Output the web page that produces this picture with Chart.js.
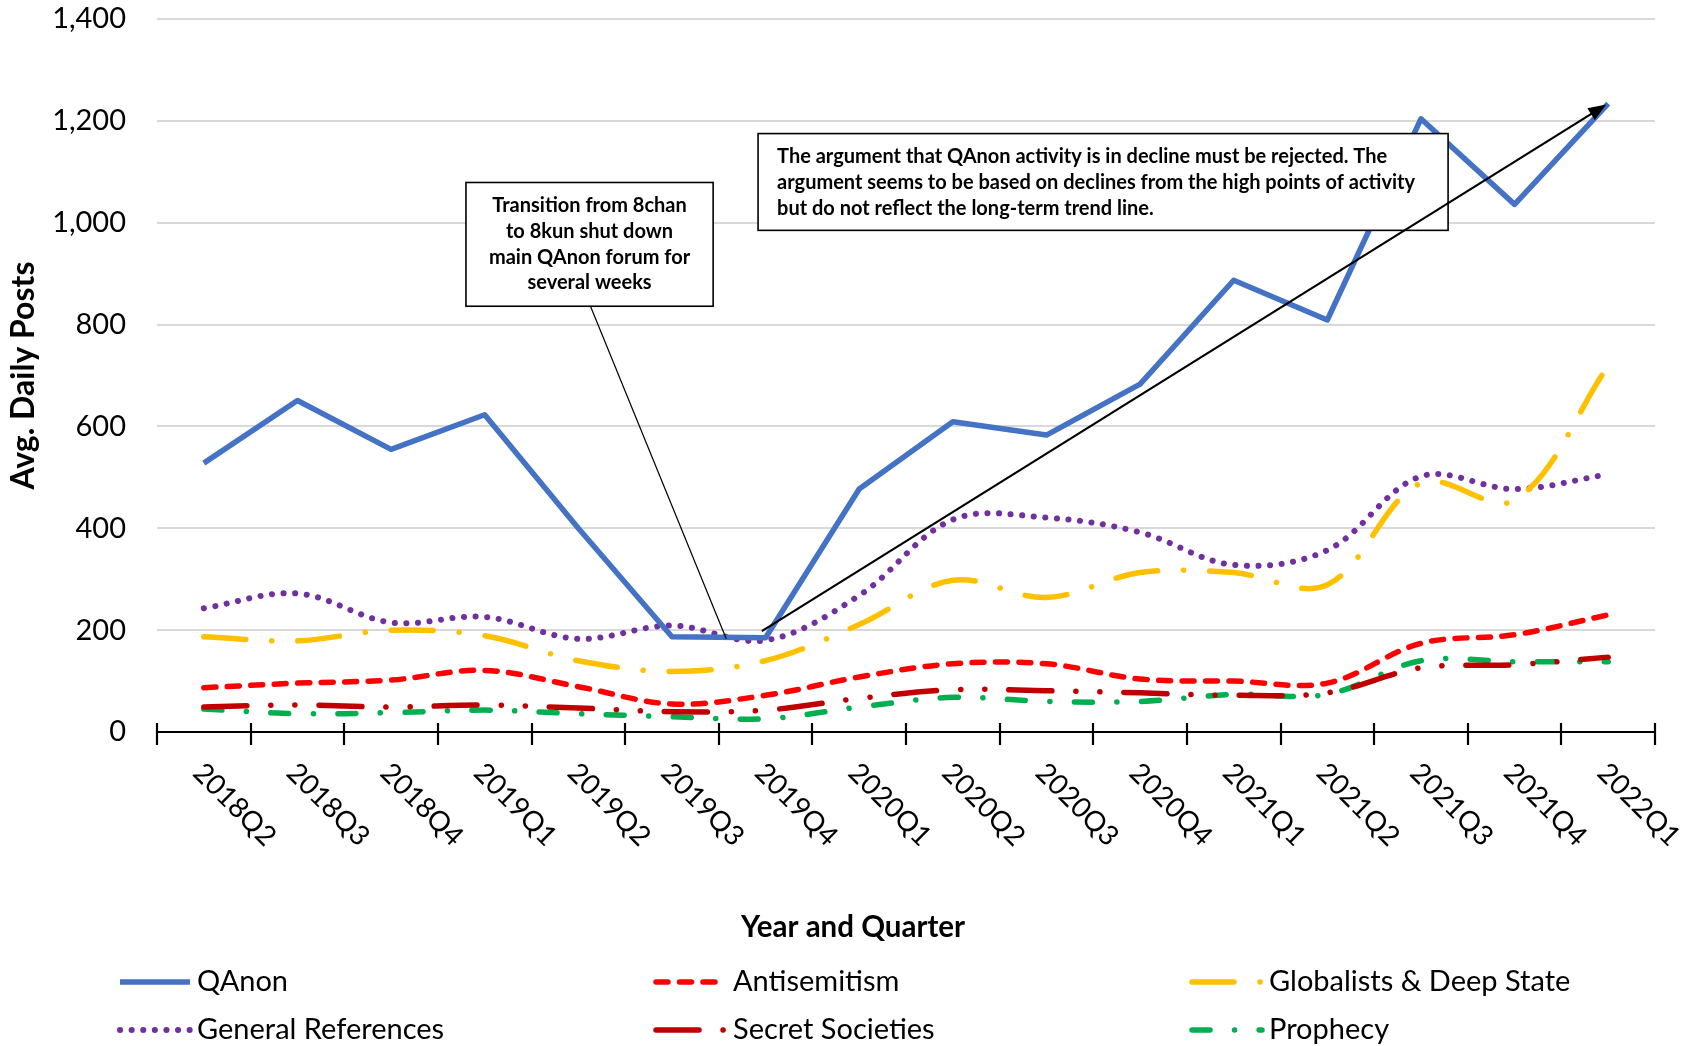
<!DOCTYPE html>
<html>
<head>
<meta charset="utf-8">
<script src="https://cdn.jsdelivr.net/npm/chart.js@4.4.0/dist/chart.umd.min.js"></script>
<style>
  html, body { margin: 0; padding: 0; background: #fff; }
  #wrap { width: 1698px; height: 1046px; position: relative; }
</style>
</head>
<body>
<div id="wrap"><canvas id="c"></canvas></div>
<script>
/* ── data ── */
const QUARTERS = ['2018Q2','2018Q3','2018Q4','2019Q1','2019Q2','2019Q3','2019Q4','2020Q1',
                  '2020Q2','2020Q3','2020Q4','2021Q1','2021Q2','2021Q3','2021Q4','2022Q1'];

const QANON        = [528, 651, 555, 623, 400, 187, 185, 477, 609, 583, 683, 887, 809, 1204, 1036, 1234];
const ANTISEMITISM = [87, 96, 102, 121, 89, 55, 72, 108, 134, 134, 104, 100, 96, 174, 191, 230];
const GLOBALISTS   = [187, 179, 200, 189, 140, 119, 140, 211, 298, 264, 313, 313, 289, 489, 455, 719];
const GENERAL      = [243, 272, 215, 226, 183, 209, 180, 268, 417, 421, 392, 328, 357, 502, 477, 506];
const SECRET       = [49, 53, 49, 53, 47, 40, 43, 66, 83, 81, 77, 72, 77, 126, 132, 147];
const PROPHECY     = [45, 36, 38, 43, 36, 30, 26, 49, 68, 60, 60, 74, 74, 140, 138, 138];

const Y_TICKS = [0, 200, 400, 600, 800, 1000, 1200, 1400];

const NOTE_1 = ['Transition from 8chan', 'to 8kun shut down', 'main QAnon forum for', 'several weeks'];
const NOTE_2 = ['The argument that QAnon activity is in decline must be rejected. The',
                'argument seems to be based on declines from the high points of activity',
                'but do not reflect the long-term trend line.'];

const FONT = "Lato, 'Open Sans', sans-serif";

/* ── annotations, placed in data space (category index, value) ── */
const BOX_1 = { x0: 2.80, x1: 5.44, y0: 1079, y1: 836 };
const BOX_2 = { x0: 5.92, x1: 13.29, y0: 1175, y1: 985 };
const CALLOUT = { x0: 4.13, y0: 836, x1: 5.58, y1: 183 };
const TREND   = { x0: 5.96, y0: 198, x1: 14.98, y1: 1232 };

function ds(label, data, color, dash, tension, width) {
  return {
    label, data,
    borderColor: color, backgroundColor: color,
    borderWidth: width || 5.5, borderDash: dash,
    borderCapStyle: dash.length ? 'round' : 'butt',
    borderJoinStyle: 'round',
    pointRadius: 0, tension, fill: false,
  };
}

const datasets = [
  ds('QAnon', QANON, '#4472C4', [], 0),
  ds('Antisemitism', ANTISEMITISM, '#FF0000', [12, 11.5], 0.35),
  ds('Globalists & Deep State', GLOBALISTS, '#FFC000', [42, 26, 0.1, 26], 0.35),
  ds('General References', GENERAL, '#7030A0', [0.1, 11.5], 0.35, 6),
  ds('Secret Societies', SECRET, '#C00000', [43, 24, 0.1, 24, 0.1, 24], 0.35),
  ds('Prophecy', PROPHECY, '#00B050', [18, 24.5, 0.1, 24.5], 0.35),
];

/* ── custom drawing: annotations, x labels, titles, legend ── */
const overlay = {
  id: 'overlay',
  afterDatasetsDraw(chart) {
    const { ctx, scales: { x, y } } = chart;
    const px = v => x.getPixelForValue(v);
    const py = v => y.getPixelForValue(v);
    ctx.save();

    // callout line
    ctx.strokeStyle = '#000'; ctx.lineWidth = 1.2;
    ctx.beginPath();
    ctx.moveTo(px(CALLOUT.x0), py(CALLOUT.y0));
    ctx.lineTo(px(CALLOUT.x1), py(CALLOUT.y1));
    ctx.stroke();

    // boxes
    const box = (b, lines, align) => {
      const l = px(b.x0), r = px(b.x1), t = py(b.y0), bt = py(b.y1);
      ctx.fillStyle = '#fff';
      ctx.fillRect(l, t, r - l, bt - t);
      ctx.strokeStyle = '#000'; ctx.lineWidth = 1.6;
      ctx.strokeRect(l, t, r - l, bt - t);
      ctx.fillStyle = '#000';
      ctx.font = `bold 20px ${FONT}`;
      ctx.textBaseline = 'middle';
      ctx.textAlign = align;
      const tx = align === 'center' ? (l + r) / 2 : l + 19;
      lines.forEach((s, i) => ctx.fillText(s, tx, t + 23 + i * 25.8));
    };
    box(BOX_1, NOTE_1, 'center');
    box(BOX_2, NOTE_2, 'left');

    // trend arrow
    const ax0 = px(TREND.x0), ay0 = py(TREND.y0), ax1 = px(TREND.x1), ay1 = py(TREND.y1);
    const ang = Math.atan2(ay1 - ay0, ax1 - ax0);
    ctx.strokeStyle = '#000'; ctx.lineWidth = 2.2;
    ctx.beginPath(); ctx.moveTo(ax0, ay0);
    ctx.lineTo(ax1 - 12 * Math.cos(ang), ay1 - 12 * Math.sin(ang)); ctx.stroke();
    ctx.fillStyle = '#000';
    ctx.beginPath();
    ctx.moveTo(ax1, ay1);
    ctx.lineTo(ax1 - 18 * Math.cos(ang) + 7 * Math.sin(ang), ay1 - 18 * Math.sin(ang) - 7 * Math.cos(ang));
    ctx.lineTo(ax1 - 18 * Math.cos(ang) - 7 * Math.sin(ang), ay1 - 18 * Math.sin(ang) + 7 * Math.cos(ang));
    ctx.closePath(); ctx.fill();
    ctx.restore();
  },
  afterDraw(chart) {
    const { ctx, chartArea: ca, scales: { x } } = chart;
    ctx.save();

    // x axis line + tick marks crossing it
    ctx.strokeStyle = '#000'; ctx.lineWidth = 2.2;
    ctx.beginPath(); ctx.moveTo(ca.left, ca.bottom); ctx.lineTo(ca.right, ca.bottom); ctx.stroke();
    for (let i = 0; i <= QUARTERS.length; i++) {
      const tx = Math.round(x.getPixelForValue(i - 0.5));
      ctx.beginPath(); ctx.moveTo(tx, ca.bottom - 9); ctx.lineTo(tx, ca.bottom + 13); ctx.stroke();
    }

    // rotated category labels (reading down to the right)
    ctx.fillStyle = '#000';
    ctx.font = `28px ${FONT}`;
    ctx.textAlign = 'left'; ctx.textBaseline = 'middle';
    QUARTERS.forEach((q, i) => {
      ctx.save();
      ctx.translate(x.getPixelForValue(i) - 6, ca.bottom + 36);
      ctx.rotate(Math.PI / 4);
      ctx.fillText(q, 0, 0);
      ctx.restore();
    });

    // axis titles
    ctx.font = `bold 29.5px ${FONT}`;
    ctx.textAlign = 'center';
    ctx.fillText('Year and Quarter', 853, 927);
    ctx.save();
    ctx.font = `bold 32px ${FONT}`;
    ctx.translate(24, (ca.top + ca.bottom) / 2);
    ctx.rotate(-Math.PI / 2);
    ctx.fillText('Avg. Daily Posts', 0, 0);
    ctx.restore();

    // legend: 3 columns x 2 rows
    const colX = [120, 656, 1192], rowY = [982, 1030];
    ctx.font = `29px ${FONT}`;
    ctx.textAlign = 'left';
    chart.data.datasets.forEach((d, i) => {
      const cx = colX[i % 3], cy = rowY[Math.floor(i / 3)];
      ctx.save();
      ctx.strokeStyle = d.borderColor; ctx.lineWidth = d.borderWidth;
      ctx.lineCap = d.borderCapStyle;
      ctx.setLineDash(d.borderDash);
      ctx.beginPath(); ctx.moveTo(cx, cy); ctx.lineTo(cx + 70, cy); ctx.stroke();
      ctx.restore();
      ctx.fillStyle = '#000';
      ctx.fillText(d.label, cx + 77, cy);
    });
    ctx.restore();
  }
};

new Chart(document.getElementById('c'), {
  type: 'line',
  data: { labels: QUARTERS, datasets },
  options: {
    responsive: true,
    maintainAspectRatio: false,
    animation: false,
    layout: { padding: { top: 19, right: 43, left: 0, bottom: 0 } },
    plugins: { legend: { display: false }, tooltip: { enabled: false } },
    scales: {
      x: {
        offset: true,
        grid: { display: false },
        border: { display: false },
        ticks: { display: false },
        afterFit: s => { s.height = 314; s.paddingLeft = 0; s.paddingRight = 0; },
      },
      y: {
        min: 0, max: 1400,
        afterBuildTicks: s => { s.ticks = Y_TICKS.map(v => ({ value: v })); },
        grid: { color: '#d9d9d9', lineWidth: 2, drawTicks: false },
        border: { display: false },
        ticks: {
          padding: 31, color: '#000',
          font: { family: FONT, size: 29 },
          callback: v => v.toLocaleString('en-US'),
        },
        afterFit: s => { s.width = 157; s.paddingTop = 0; s.paddingBottom = 0; },
      }
    }
  },
  plugins: [overlay]
});
</script>
</body>
</html>
